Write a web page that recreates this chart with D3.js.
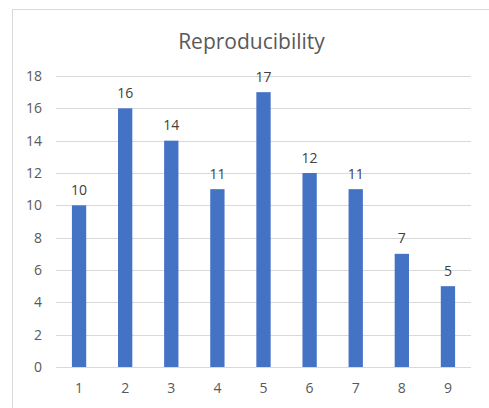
<!DOCTYPE html>
<html>
<head>
<meta charset="utf-8">
<script src="https://cdn.jsdelivr.net/npm/d3@7"></script>
<style>
  html, body { margin: 0; padding: 0; background: #fff; }
  svg { display: block; font-family: "Open Sans", "Noto Sans", sans-serif; }
</style>
</head>
<body>
<svg id="chart" width="489" height="408"></svg>
<script>
// Chart data
const categories = ["1", "2", "3", "4", "5", "6", "7", "8", "9"];
const values = [10, 16, 14, 11, 17, 12, 11, 7, 5];
const yTicks = [0, 2, 4, 6, 8, 10, 12, 14, 16, 18];
const title = "Reproducibility";

const svg = d3.select("#chart");
const W = 489, H = 408;
const font = "'Open Sans', 'Noto Sans', sans-serif";

// Chart frame (extends past the right and bottom edges)
svg.append("rect")
  .attr("x", 12.5).attr("y", 9.5)
  .attr("width", W + 10).attr("height", H + 10)
  .attr("fill", "#fff").attr("stroke", "#d9d9d9");

const plot = { left: 56, right: 471, top: 76, bottom: 367 };

const x = d3.scaleBand()
  .domain(categories)
  .range([plot.left, plot.right])
  .paddingInner(0.69).paddingOuter(0.345);

const y = d3.scaleLinear()
  .domain([0, 18])
  .range([plot.bottom, plot.top]);

// Gridlines
svg.append("g")
  .selectAll("line")
  .data(yTicks)
  .join("line")
  .attr("x1", plot.left).attr("x2", plot.right)
  .attr("y1", d => Math.round(y(d)) + 0.5)
  .attr("y2", d => Math.round(y(d)) + 0.5)
  .attr("stroke", "#d9d9d9").attr("stroke-width", 1);

// Y axis labels
const yAxis = d3.axisLeft(y).tickValues(yTicks).tickSize(0).tickPadding(0);
svg.append("g")
  .attr("transform", `translate(${plot.left - 14},0)`)
  .call(yAxis)
  .call(g => g.select(".domain").remove())
  .call(g => g.selectAll("text")
    .attr("fill", "#595959")
    .style("font-size", "14px")
    .style("font-family", font));

// X axis labels
const xAxis = d3.axisBottom(x).tickSize(0).tickPadding(0);
svg.append("g")
  .attr("transform", `translate(0,${plot.bottom + 16})`)
  .call(xAxis)
  .call(g => g.select(".domain").remove())
  .call(g => g.selectAll("text")
    .attr("fill", "#595959")
    .style("font-size", "14px")
    .style("font-family", font));

// Bars
svg.append("g")
  .selectAll("rect")
  .data(values)
  .join("rect")
  .attr("x", (d, i) => x(categories[i]))
  .attr("y", d => y(d))
  .attr("width", x.bandwidth())
  .attr("height", d => y(0) - y(d))
  .attr("fill", "#4472c4");

// Value labels
svg.append("g")
  .selectAll("text")
  .data(values)
  .join("text")
  .attr("x", (d, i) => x(categories[i]) + x.bandwidth() / 2)
  .attr("y", d => y(d) - 10.5)
  .attr("text-anchor", "middle")
  .attr("fill", "#404040")
  .style("font-size", "14px")
  .text(d => d);

// Title
svg.append("text")
  .attr("x", 251.5).attr("y", 49)
  .attr("text-anchor", "middle")
  .attr("fill", "#595959")
  .style("font-size", "21px")
  .text(title);
</script>
</body>
</html>
